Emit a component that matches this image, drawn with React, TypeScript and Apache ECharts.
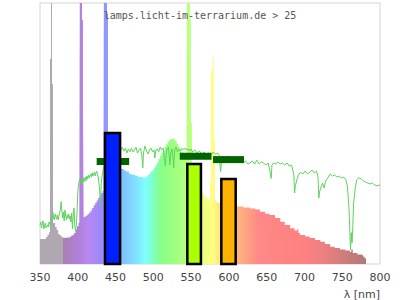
import React, { useEffect, useRef } from "react";
import * as echarts from "echarts";

const titleText = "lamps.licht-im-terrarium.de > 25";
const axisName = "λ [nm]";

// lamp spectrum: each value holds from its wavelength up to the next one (0..100 scale; > 100 = clipped spike)
const specNm = [
  350, 352, 354, 356, 358, 360, 362, 363.2, 364.6, 365.9, 367.2, 368.5, 370, 372, 374, 376, 378, 380,
  382, 385, 388, 391, 393, 395, 397, 399, 401, 402, 402.9, 405.6, 406.9, 407.8, 409, 411, 413, 415,
  417, 419, 421, 423, 425, 427, 429, 431, 433, 434, 434.7, 438.7, 440, 445, 450, 455,
  457, 461, 464, 468, 471, 476, 480, 484, 487, 490, 493, 496, 499, 501, 503, 505, 507, 509, 511,
  513, 515, 517, 519, 521, 523, 525, 527, 529, 531, 533, 535, 537, 539, 541, 543, 544, 544.5,
  548.5, 549.8, 551.1, 556, 562, 566, 568, 570, 572, 574, 575, 576.3, 578.9, 580.2, 581.5, 582.5,
  584, 586, 588, 595, 605, 610, 619, 628, 635, 641, 648, 654, 661, 668, 674, 681, 687, 690.5, 692,
  694, 701, 707, 714, 721, 727, 734, 740, 747, 754, 760, 762, 764, 770, 775, 777.5, 779.5, 781.5,
];
const specVal = [
  9.6, 9.6, 9.6, 9.6, 10.3, 11.2, 12.3, 78.5, 130, 69, 15.7, 15.7, 14.2, 13, 11.5, 11, 10.5, 10.1,
  10.1, 10.2, 10.3, 10.8, 11.1, 11.9, 13.2, 14.5, 15.7, 16.3, 130, 93.5, 57.5, 17.9, 18.2, 18.6, 19.2, 19.7,
  20.5, 21.5, 22.5, 23.4, 24.3, 25.3, 26.2, 27.2, 28, 29, 130, 96, 38, 37.5, 37, 36.7,
  36.4, 35.8, 35.4, 34.5, 34.2, 33.8, 33.3, 33.1, 33.2, 33.6, 34.4, 35.4, 36.2, 37, 38, 39, 40.2, 41.5, 42.6,
  43.6, 44.8, 45.9, 46.8, 47.5, 48, 48.2, 47.8, 47, 46, 45, 44, 43, 42.2, 41.2, 40.2, 39.5, 130,
  93.5, 54, 34, 30, 27.5, 26.4, 25.6, 25.2, 24.8, 24.5, 31, 74, 79.3, 47.9, 24.5, 23.9,
  23.5, 23.3, 23.2, 22.8, 22.3, 22, 21.6, 21.3, 20.9, 20, 19.3, 18.8, 17.6, 16.2, 14.9, 13.7, 12.8, 13.4, 11.9,
  11.1, 10.5, 10, 9.2, 8.5, 7.7, 6.6, 6.1, 5.6, 5.2, 4.7, 5.6, 4.2, 3.6, 3.4, 2.9, 2.2, 2.2,
];

// reference (daylight) curve
const sunNm = [
  350, 351, 352, 353, 354, 355, 356, 357, 358, 360, 361, 362, 363, 364, 365, 366, 367, 368, 369, 370,
  371, 372, 373, 374, 375, 376, 377, 378, 379, 380, 381, 382, 383, 384, 385, 386, 387, 388, 389, 390,
  391, 392, 393, 394, 395, 396, 397, 398, 399, 400, 401, 402, 403, 404, 405, 406, 407, 408, 409, 410,
  411, 412, 413, 414, 415, 416, 417, 418, 419, 420, 421, 422, 423, 424, 425, 426, 427, 428, 429, 430,
  431, 432, 433, 434, 440, 450, 457, 459, 461, 463, 465, 467, 469, 471, 473, 475, 477, 479, 481, 483,
  485, 486, 487, 489, 491, 493, 495, 497, 499, 501, 502, 503, 505, 507, 509, 511, 513, 515, 516, 517,
  518, 520, 522, 523, 525, 527, 528, 530, 532, 534, 536, 538, 540, 542, 544, 546, 548, 550, 552, 555,
  558, 561, 564, 567, 570, 573, 576, 579, 582, 585, 587, 589, 590, 592, 595, 598, 601, 604, 607, 610,
  613, 616, 619, 622, 625, 628, 631, 634, 637, 640, 643, 646, 649, 652, 654, 656, 657, 659, 662, 665,
  668, 671, 674, 677, 680, 683, 686, 687, 688, 690, 692, 695, 698, 701, 704, 707, 710, 713, 716, 718,
  719, 720, 722, 724, 726, 728, 731, 734, 737, 740, 743, 746, 749, 752, 755, 757, 759, 761, 762, 763,
  764, 765, 767, 769, 772, 775, 778, 781, 784, 787, 790, 793, 796, 800,
];
const sunVal = [
  14.9, 16.1, 13.8, 15.3, 16.5, 13.4, 14.6, 15.7, 13.8, 15, 14.2, 16.1, 15.3, 14.6, 16.9, 18.4, 19.9, 17.6, 16.9, 19.2,
  18, 17.2, 18.8, 16.9, 18.4, 19.5, 21, 23.9, 20.3, 17.6, 19.9, 16.5, 20.7, 18.4, 16.9, 18.8, 17.6, 19.2, 17.2, 18.4,
  16.1, 19.5, 13.4, 18.8, 21.5, 14.6, 12.6, 14.6, 19.2, 27.2, 30.3, 31.8, 32.6, 31, 32.2, 30.7, 33, 31.4, 32.6, 33.3,
  31.8, 33.7, 32.6, 34.1, 32.9, 33.7, 34.5, 33.3, 34.9, 33.7, 34.5, 35.2, 33.7, 34.9, 35.6, 34.5, 33.3, 31, 28.4, 22,
  30.7, 33.3, 35.2, 36.8, 40, 42, 43.7, 44.8, 43.3, 44.4, 42.5, 44.1, 43, 44.4, 42.9, 43.7, 44.8, 42.5, 43.7, 44.4,
  41, 36.8, 42.5, 45.2, 43.3, 42.1, 43.7, 44.4, 42.9, 43.7, 40.6, 43.3, 44.1, 42.9, 44.8, 43.7, 44.4, 39.5, 37.5, 41.8,
  43.7, 44.8, 37.9, 42.5, 44.1, 36.8, 43.3, 44.8, 42.9, 44.1, 43.3, 44.4, 43.7, 44.4, 43.7, 44.1, 43.3, 44.1, 42.9, 43.7,
  42.5, 43.3, 42.1, 42.9, 41.8, 42.5, 41.8, 42.9, 42.1, 42.5, 41.8, 35.4, 38.3, 41.4, 40.6, 41.4, 40.2, 41, 39.8, 40.6,
  39.8, 40.2, 38.7, 39.5, 38.3, 38.7, 39.5, 38.3, 39.8, 38.3, 39.1, 38.7, 37.9, 38.7, 36, 32.8, 37.9, 38.7, 38.3, 39.1,
  38.3, 38.7, 37.9, 38.7, 37.5, 37.9, 34, 27.2, 30, 32.2, 34.1, 35.2, 34.5, 35.6, 34.5, 35.2, 36, 34.9, 35.6, 33.3,
  25.3, 27.6, 29.5, 31, 29.1, 31.8, 33, 34.5, 33.7, 34.1, 33.3, 33.7, 33, 33.3, 32.2, 29.5, 21, 5.4, 12, 8,
  14.2, 23, 28.4, 32.2, 33, 32.6, 31.8, 31.4, 31, 30.7, 31, 30.3, 29.9, 30.3,
];

// filter bars (wavelength range and height)
const barStart = [436, 545, 590];
const barEnd = [456, 563, 609];
const barValue = [50.2, 38.3, 32.6];
const barColors = ["#0020ff", "#aaff00", "#ffb300"];

// dark green range markers
const segStart = [425, 535, 579];
const segEnd = [468, 577, 620];
const segValue = [39.3, 41.3, 40.0];

// spectrum colouring (styling)
const gradNm = [350, 379.9, 380, 400, 415, 430, 440, 460, 480, 490, 500, 510, 530, 550, 565, 578, 590, 605, 620, 640, 700, 730, 781.5];
const gradColor = [
  "#b0a8b0", "#b0a8b0", "#a880b0", "#b080d8", "#b888f0", "#9c88ff", "#8aa0ff", "#80c0ff", "#80e8ff", "#80ffff",
  "#80ffc0", "#88ff88", "#a0ff80", "#c0ff80", "#e8ff80", "#ffff80", "#ffe080", "#ffc080", "#ffa880", "#ff8888",
  "#ff8080", "#e88080", "#b07878",
];

export default function App() {
  const ref = useRef<HTMLDivElement>(null);
  useEffect(() => {
    if (!ref.current) return;
    const chart = echarts.init(ref.current, null, { renderer: "svg" });
    const n0 = specNm[0];
    const n1 = specNm[specNm.length - 1];
    const stops = gradNm.map((nm, i) => ({
      offset: Math.min(1, Math.max(0, (nm - n0) / (n1 - n0))),
      color: gradColor[i],
    }));
    const specData = specNm.map((nm, i) => [nm, specVal[i]]);
    const sunData = sunNm.map((nm, i) => [nm, sunVal[i]]);
    const barData = barStart.map((s, i) => [s, barEnd[i], barValue[i], i]);
    const segData = segStart.map((s, i) => [s, segEnd[i], segValue[i]]);

    chart.setOption({
      animation: false,
      title: {
        text: titleText,
        left: "center",
        top: 5,
        textStyle: {
          fontFamily: "DejaVu Sans Mono",
          fontSize: 10,
          fontWeight: "normal",
          color: "#555",
        },
      },
      grid: {
        left: 40,
        right: 20,
        top: 3,
        bottom: 36,
        show: true,
        borderColor: "#d4d4d4",
        borderWidth: 1,
      },
      xAxis: {
        type: "value",
        min: 350,
        max: 800,
        interval: 50,
        axisLine: { show: false },
        axisTick: { show: false },
        splitLine: { show: false },
        axisLabel: { color: "#444", fontSize: 11, fontFamily: "DejaVu Sans", margin: 8 },
      },
      yAxis: { type: "value", min: 0, max: 100, show: false },
      graphic: [
        {
          type: "text",
          right: 20,
          top: 289,
          style: { text: axisName, font: "11px DejaVu Sans", fill: "#444" },
        },
      ],
      series: [
        {
          type: "line",
          data: specData,
          step: "end",
          symbol: "none",
          clip: true,
          lineStyle: { width: 0 },
          areaStyle: {
            opacity: 1,
            color: new echarts.graphic.LinearGradient(0, 0, 1, 0, stops),
          },
          z: 1,
        },
        {
          type: "line",
          data: sunData,
          symbol: "none",
          clip: true,
          lineStyle: { color: "#5fd35f", width: 1 },
          z: 2,
        },
        {
          type: "custom",
          data: segData,
          z: 3,
          renderItem: (params: any, api: any) => {
            const p0 = api.coord([api.value(0), api.value(2)]);
            const p1 = api.coord([api.value(1), api.value(2)]);
            return {
              type: "rect",
              shape: { x: p0[0], y: p0[1] - 3.5, width: p1[0] - p0[0], height: 7 },
              style: { fill: "#006400" },
            };
          },
        },
        {
          type: "custom",
          data: barData,
          z: 4,
          renderItem: (params: any, api: any) => {
            const p0 = api.coord([api.value(0), api.value(2)]);
            const p1 = api.coord([api.value(1), 0]);
            return {
              type: "rect",
              shape: { x: p0[0], y: p0[1], width: p1[0] - p0[0], height: p1[1] - p0[1] },
              style: { fill: barColors[api.value(3)], stroke: "#000", lineWidth: 2.5 },
            };
          },
        },
      ],
    });
    return () => chart.dispose();
  }, []);
  return <div ref={ref} style={{ position: "absolute", left: 0, top: 0, width: 400, height: 300 }} />;
}
